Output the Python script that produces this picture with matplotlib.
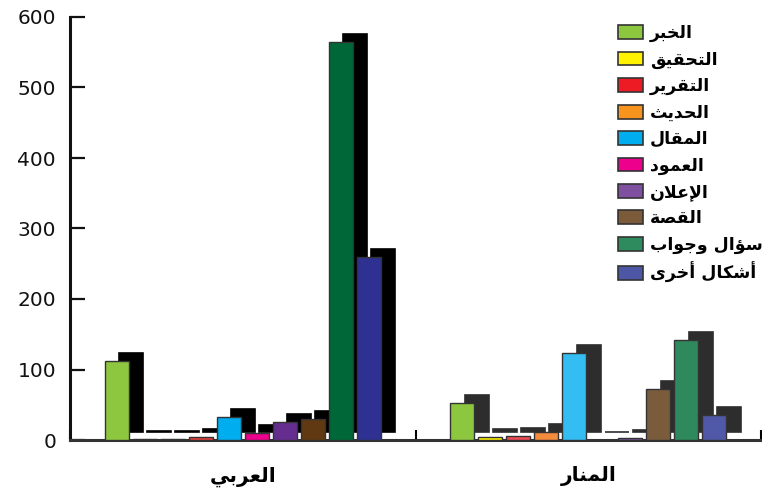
import matplotlib
matplotlib.use('Agg')
import matplotlib.pyplot as plt
import numpy as np
from matplotlib.patches import Patch

# data
groups = ['العربي', 'المنار']
categories = ['الخبر', 'التحقيق', 'التقرير', 'الحديث', 'المقال',
              'العمود', 'الإعلان', 'القصة', 'سؤال وجواب', 'أشكال أخرى']
arabi = [112, 1, 2, 4, 33, 10, 25, 30, 564, 260]
manar = [53, 4, 6, 12, 123, 0, 3, 73, 142, 35]

colors_arabi = ['#8dc63f', '#fff200', '#ed1c24', '#e8403a', '#00aeef',
                '#ec008c', '#662d91', '#603913', '#006838', '#2e3192']
colors_manar = ['#8dc63f', '#fff200', '#ef4a55', '#f58b3c', '#33bdf2',
                '#ec2a95', '#7e57a3', '#7a5c3d', '#2e8a5c', '#5059a8']
legend_colors = ['#8dc63f', '#fff200', '#ed1c24', '#f7941d', '#00aeef',
                 '#ec008c', '#7f4fa0', '#7b5b3a', '#2e8b5e', '#4d57a5']


# matplotlib has no arabic shaping, so map letters to presentation forms
_letters = 'آأؤإئابةتثجحخدذرزسشصضطظعغفقكلمنهوىي'
_two = 'آأؤإادذرزوىة'
FORMS = {}
_b = 0xFE81
for ch in _letters:
    n = 2 if ch in _two else 4
    FORMS[ch] = (_b, n)
    _b += n
LIGS = {'آ': 0xFEF5, 'أ': 0xFEF7, 'إ': 0xFEF9, 'ا': 0xFEFB}


def shape(word):
    toks = []
    i = 0
    while i < len(word):
        c = word[i]
        if c == 'ل' and i + 1 < len(word) and word[i + 1] in LIGS:
            toks.append((LIGS[word[i + 1]], 2))
            i += 2
            continue
        toks.append(FORMS.get(c, (c, 0)))
        i += 1
    out = []
    for k, (b, n) in enumerate(toks):
        if n == 0:
            out.append(b)
            continue
        jp = k > 0 and toks[k - 1][1] == 4
        jn = n == 4 and k + 1 < len(toks) and toks[k + 1][1] > 0
        off = 3 if (jp and jn) else 1 if jp else 2 if jn else 0
        out.append(chr(b + off))
    return ''.join(reversed(out))


W, H = 762, 498
fig = plt.figure(figsize=(W / 100, H / 100), dpi=100)
ax = fig.add_axes([70 / W, 1 - 440 / H, 691 / W, 423 / H])

sp = 28 / 345.5
bw = 24 / 345.5
dx = 14.5 / 345.5
dy = 8 / 423 * 600
idx = np.arange(len(categories))

for g, (vals, cols, shcol) in enumerate([(arabi, colors_arabi, '#000000'),
                                          (manar, colors_manar, '#2d2d2d')]):
    xs = g + 0.5 + (idx - 4.5) * sp
    for i in idx:
        ax.bar(xs[i] + dx, vals[i], bw, bottom=dy, color=shcol,
               edgecolor=shcol, linewidth=1.2, zorder=2 + 2 * i)
        ax.bar(xs[i], vals[i], bw, color=cols[i], edgecolor='#333333',
               linewidth=1.0, zorder=3 + 2 * i)

ax.set_xlim(0, 2)
ax.set_ylim(0, 600)
ax.set_yticks(np.arange(0, 601, 100))
ax.tick_params(axis='y', direction='in', length=11, width=1.6, pad=10,
               labelsize=14.5, colors='#111111')
ax.set_xticks([0, 1, 2])
ax.set_xticks([0.5, 1.5], minor=True)
ax.set_xticklabels([])
ax.set_xticklabels([shape(s) for s in groups], minor=True,
                   fontsize=14.5, fontweight='bold')
ax.tick_params(axis='x', which='major', direction='in', length=7, width=1.5)
ax.tick_params(axis='x', which='minor', length=0, pad=19)
for s in ['top', 'right']:
    ax.spines[s].set_visible(False)
ax.spines['left'].set_linewidth(2.2)
ax.spines['bottom'].set_linewidth(2.2)
ax.spines['left'].set_color('#111111')
ax.spines['bottom'].set_color('#333333')

handles = [Patch(facecolor=c, edgecolor='#333333', linewidth=1.2)
           for c in legend_colors]
fig.legend(handles, [shape(s) for s in categories], loc='upper left',
           bbox_to_anchor=(618 / W, 1 - 24 / H), frameon=False,
           prop={'weight': 'bold', 'size': 12.5}, borderpad=0,
           borderaxespad=0, handlelength=1.45, handleheight=0.85,
           handletextpad=0.4, labelspacing=0.485)

fig.savefig('out.png', dpi=100)
